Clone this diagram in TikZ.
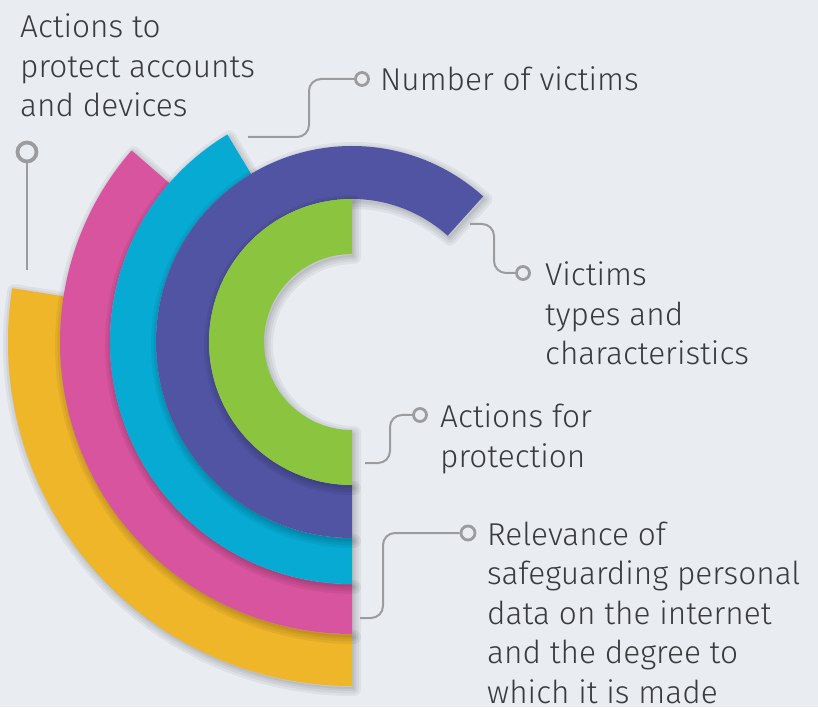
\documentclass[tikz,border=0pt]{standalone}
\usepackage{fontspec}
\setmainfont{Fira Sans Light}
\definecolor{bgcol}{HTML}{E9EDF2}
\definecolor{ylwband}{HTML}{F0B62A}
\definecolor{pinkband}{HTML}{D8549E}
\definecolor{cyanband}{HTML}{06AAD3}
\definecolor{purpband}{HTML}{5054A3}
\definecolor{greenband}{HTML}{8BC43F}
\definecolor{leadgray}{HTML}{9C9C9E}
\definecolor{txtgray}{HTML}{3A3B3D}

\begin{document}
\begin{tikzpicture}[x=1pt, y=1pt,
    bandshape/.style n args={3}{insert path={(352,365) ++(#3:#2)
        arc[start angle=#3, end angle=270, radius=#2] -- ++(0,#2-#1)
        arc[start angle=270, end angle=#3, radius=#1] -- cycle}},
    softshade/.style={black, opacity=0.05, line join=round, shift={(2,-3)}},
    lead/.style={draw=leadgray, line width=2pt, rounded corners=12pt},
    pin/.style={circle, draw=leadgray, line width=2.8pt, fill=bgcol,
                minimum size=13pt, inner sep=0pt},
    txt/.style={anchor=base west, align=left, text=txtgray, inner sep=0pt,
                font=\fontsize{31.6}{39.5}\selectfont}]
          \fill[bgcol] (0,0) rectangle (818,707);
          \useasboundingbox (0,0) rectangle (818,707);

          \foreach \col/\ri/\ro/\a in {ylwband/292/344/171, pinkband/242/292/139,
                                       cyanband/196/242/121, purpband/143/196/48,
                                       greenband/88/143/90} {
            \foreach \w in {14,9,4}
              \draw[softshade, line width=\w pt, bandshape={\ri}{\ro}{\a}];
            \fill[softshade, bandshape={\ri}{\ro}{\a}];
            \fill[\col, bandshape={\ri}{\ro}{\a}];
          }

          \node[pin, minimum size=19pt, line width=3.8pt] (pin1) at (27,555) {};
          \node[pin] (pin2) at (362,628) {};
          \node[pin] (pin3) at (523,434) {};
          \node[pin] (pin4) at (420,292) {};
          \node[pin, minimum size=14pt] (pin5) at (468,174) {};

          \coordinate (e1) at (27,437);
          \coordinate (e2) at (248,570);
          \coordinate (e3) at (470,483);
          \coordinate (e4) at (365,244);
          \coordinate (e5) at (360,89);

          \draw[lead] (e1) -- (pin1);
          \draw[lead] (e2) -- ++(61,0) |- (pin2);
          \draw[lead] (e3) -- ++(24,0) |- (pin3);
          \draw[lead] (e4) -- ++(25,0) |- (pin4);
          \draw[lead] (e5) -- ++(23,0) |- (pin5);

          \node[txt] (acct)  at (20,590)  {Actions to\\protect accounts\\and devices};
          \node[txt] (num)   at (380,616) {Number of victims};
          \node[txt] (types) at (545,342) {Victims\\types and\\characteristics};
          \node[txt] (prot)  at (440,240) {Actions for\\protection};
          \node[txt] (rel)   at (487,4)   {Relevance of\\safeguarding personal\\data on the internet\\and the degree to\\which it is made};
      \end{tikzpicture}
\end{document}
